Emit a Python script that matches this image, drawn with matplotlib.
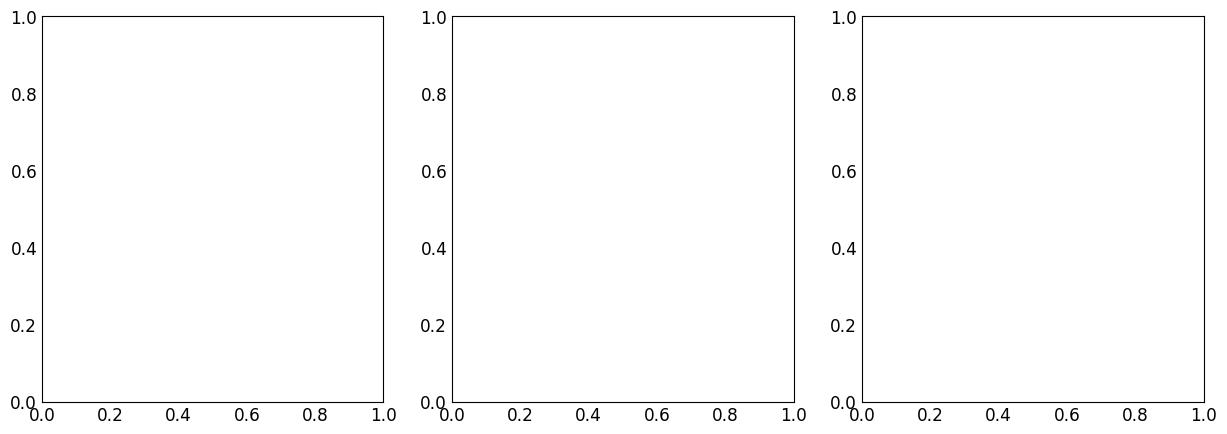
import matplotlib
matplotlib.use("Agg")
import matplotlib.pyplot as plt

n_panels = 3
xlim = [0, 1]
ylim = [0, 1]
lefts = [42, 452, 862]

fig = plt.figure(figsize=(12.27, 4.35), dpi=100)
for left in lefts:
    ax = fig.add_axes([left / 1227, 32.5 / 435, 341.5 / 1227, 385.5 / 435])
    ax.set_xlim(xlim)
    ax.set_ylim(ylim)
    ax.tick_params(length=0, labelsize=12.2, pad=3.5)

fig.savefig("out.png", dpi=100)
